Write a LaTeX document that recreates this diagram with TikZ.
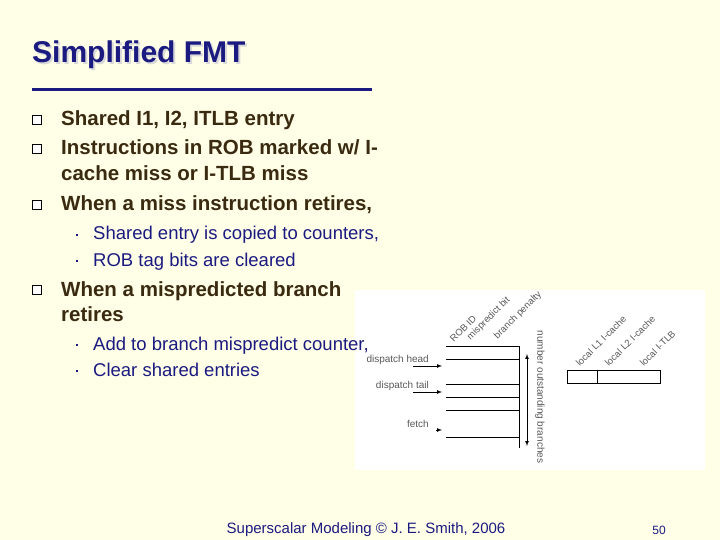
\documentclass[tikz,border=0pt]{standalone}
\usepackage{fontspec}
\setmainfont{Liberation Sans}
\begin{document}
\begin{tikzpicture}[x=1pt,y=-1pt,
  lvA/.style={anchor=base west,inner sep=0,font=\fontsize{20.5}{22}\selectfont\bfseries,text=brn},
  lvB/.style={anchor=base west,inner sep=0,font=\fontsize{18.5}{20}\selectfont,text=navy},
  qb/.style={draw=black,fill=white,line width=0.6pt,minimum size=8.5pt,inner sep=0},
  sb/.style={fill=navy,minimum size=2.5pt,inner sep=0},
  lbl/.style={inner sep=0,font=\fontsize{10}{11}\selectfont,text=gray!70!black},
  rl/.style={lbl,font=\fontsize{9.5}{10}\selectfont,rotate=45,anchor=south west},
  ln/.style={line width=0.7pt}]
\definecolor{navy}{HTML}{1A1A80}
\definecolor{brn}{HTML}{3A2A10}
\definecolor{cream}{HTML}{FFFFE8}
\fill[cream] (0,0) rectangle (720,540);
\useasboundingbox (0,0) rectangle (720,540);
% title
\node[anchor=base west,inner sep=0,font=\fontsize{30}{32}\selectfont\bfseries,text=gray!30] at (34,65) {Simplified FMT};
\node[anchor=base west,inner sep=0,font=\fontsize{30}{32}\selectfont\bfseries,text=navy] (title) at (32,63) {Simplified FMT};
\draw[navy,line width=3pt] (32,90) coordinate (u1) -- (372,90) coordinate (u2);
% bullets
\foreach \n/\y in {1/126,2/155,3/211,4/296}{\node[qb] (q\n) at (37,\y-6) {};}
\node[lvA] (t1) at (61,126) {Shared I1, I2, ITLB entry};
\node[lvA] (t2) at (61,155) {Instructions in ROB marked w/ I-};
\node[lvA] (t2b) at (61,181) {cache miss or I-TLB miss};
\node[lvA] (t3) at (61,211) {When a miss instruction retires,};
\node[lvA] (t4) at (61,296) {When a mispredicted branch};
\node[lvA] (t4b) at (61,321) {retires};
% figure background
\fill[white] (355,290) rectangle (705,470);
\foreach \n/\y in {1/240,2/266,3/350,4/376}{\node[sb] (s\n) at (77,\y-5) {};}
\node[lvB] (u1t) at (93,240) {Shared entry is copied to counters,};
\node[lvB] (u2t) at (93,266) {ROB tag bits are cleared};
\node[lvB] (u3t) at (93,350) {Add to branch mispredict counter,};
\node[lvB] (u4t) at (93,376) {Clear shared entries};
% diagram
\coordinate (vt) at (519,346); \coordinate (vb) at (519,448);
\draw[ln] (vt) -- (vb);
\foreach \y in {346,359,384,397,410,437}{\draw[ln] (446,\y) -- (519,\y);}
\node[rl] (rob) at (454,343) {ROB ID};
\node[rl] (mis) at (472,342) {mispredict bit};
\node[rl] (bp) at (499,341) {branch penalty};
\coordinate (ha) at (413,366); \coordinate (hb) at (442,366);
\draw[ln,-latex] (ha) -- (hb);
\coordinate (ta) at (413,392); \coordinate (tb) at (442,392);
\draw[ln,-latex] (ta) -- (tb);
\coordinate (fa) at (436,430); \coordinate (fb) at (442,430);
\draw[ln,-latex] (fa) -- (fb);
\node[lbl,anchor=east] (dh) at (429,360) {dispatch head};
\node[lbl,anchor=east] (dt) at (429,386) {dispatch tail};
\node[lbl,anchor=east] (fe) at (429,424) {fetch};
\coordinate (m1) at (527,358); \coordinate (m2) at (527,442);
\draw[ln,latex-latex,shorten <=-4pt,shorten >=-4pt] (m1) -- (m2);
\node[lbl,rotate=-90,anchor=south] (nob) at (535,397) {number outstanding branches};
\draw[ln] (567,370) rectangle (660,383);
\draw[ln] (597,370) -- (597,383);
\node[rl] (l1) at (580,367) {local L1 I-cache};
\node[rl] (l2) at (609,367) {local L2 I-cache};
\node[rl] (lt) at (644,367) {local I-TLB};
% footer
\node[anchor=base,inner sep=0,font=\fontsize{15}{17}\selectfont,text=navy] (ft) at (366,533) {Superscalar Modeling © J. E. Smith, 2006};
\node[anchor=base,inner sep=0,font=\fontsize{12}{14}\selectfont,text=navy] (pg) at (659,534) {50};
\end{tikzpicture}
\end{document}
